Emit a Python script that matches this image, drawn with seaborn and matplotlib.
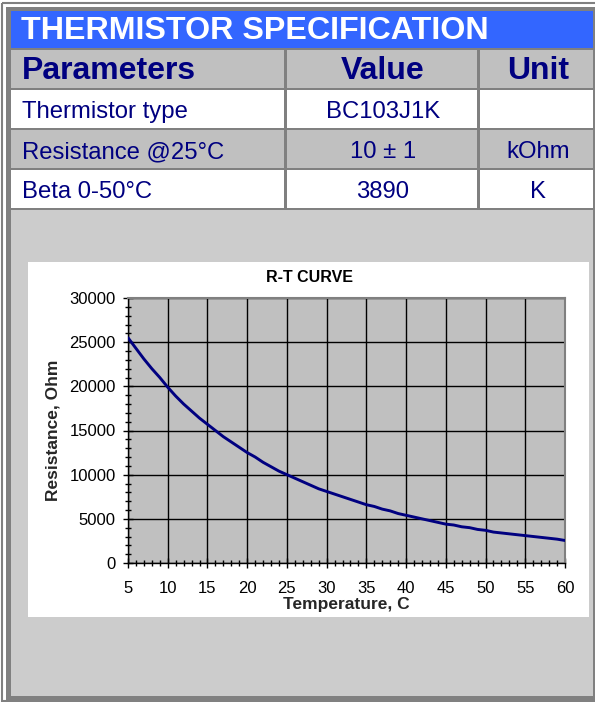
import matplotlib
matplotlib.use("Agg")
import matplotlib.pyplot as plt
from matplotlib.patches import Rectangle
from matplotlib.ticker import MultipleLocator
import seaborn as sns

# ─────────────────────────────────────────────
# DATA
# ─────────────────────────────────────────────
table_title = "THERMISTOR SPECIFICATION"
header = ["Parameters", "Value", "Unit"]
params = ["Thermistor type", "Resistance @25°C", "Beta 0-50°C"]
values = ["BC103J1K", "10 ± 1", "3890"]
units = ["", "kOhm", "K"]

# resistance, one point per degree
temps = list(range(5, 61))
resist = [25500, 24300, 23100, 22000, 21000, 19900, 18900, 18000, 17200, 16400,
          15700, 15000, 14300, 13700, 13100, 12500, 12000, 11400, 10900, 10400,
          10000, 9600, 9200, 8800, 8400, 8100, 7800, 7500, 7200, 6900,
          6600, 6400, 6100, 5900, 5600, 5400, 5200, 5000, 4800, 4600,
          4400, 4300, 4100, 4000, 3800, 3700, 3500, 3400, 3300, 3200,
          3100, 3000, 2900, 2800, 2700, 2550]

chart_title = "R-T CURVE"
xlabel = "Temperature, C"
ylabel = "Resistance, Ohm"

# ─────────────────────────────────────────────
# STYLE
# ─────────────────────────────────────────────
sns.set_style("white")
plt.rcParams["font.family"] = ["Liberation Sans", "DejaVu Sans"]

NAVY = "#000080"
BLUE = "#3366FF"
HDR_GRAY = "#C0C0C0"
PANEL_GRAY = "#CCCCCC"
LINE_GRAY = "#808080"

W, H = 595, 702
fig = plt.figure(figsize=(W / 100, H / 100), dpi=100, facecolor="white")

# page layer in pixel coordinates
bg = fig.add_axes([0, 0, 1, 1], zorder=0)
bg.set_xlim(0, W)
bg.set_ylim(H, 0)
bg.axis("off")


def box(x0, y0, x1, y1, color, **kw):
    bg.add_patch(Rectangle((x0, y0), x1 - x0, y1 - y0, facecolor=color,
                           edgecolor="none", **kw))


# outer frame + gray cell spacing
bg.add_patch(Rectangle((1.5, 2.5), W, H - 4, facecolor="none",
                       edgecolor=LINE_GRAY, lw=1.5))
box(6, 7, W + 5, 700, LINE_GRAY)

# title bar
box(11, 11, 593, 48, BLUE)
bg.text(21, 39.3, table_title, color="white", fontsize=23.2,
        fontweight="bold", va="baseline", ha="left")

# table columns
cols = [(11, 284), (287, 477), (480, 593)]
col_centers = [None, 383, 538]
row_top = [50, 90, 130, 170]
row_fill = [HDR_GRAY, "white", HDR_GRAY, "white"]
rows = [header] + [[p, v, u] for p, v, u in zip(params, values, units)]

for i, (y0, fill, row) in enumerate(zip(row_top, row_fill, rows)):
    y1 = y0 + 38
    base = y0 + (29.3 if i == 0 else 28.3)
    for j, ((x0, x1), txt) in enumerate(zip(cols, row)):
        box(x0, y0, x1, y1, fill)
        if not txt:
            continue
        kw = dict(color=NAVY, va="baseline",
                  fontsize=23 if i == 0 else 17.2,
                  fontweight="bold" if i == 0 else "normal")
        if j == 0:
            bg.text(22, base, txt, ha="left", **kw)
        else:
            bg.text(col_centers[j], base, txt, ha="center", **kw)

# lower panel + white chart area
box(11, 210, 593, 696, PANEL_GRAY)
box(28, 262, 589, 617, "white")
bg.text(310, 277, chart_title, fontsize=11.5, fontweight="bold",
        ha="center", va="center", color="black")

# ─────────────────────────────────────────────
# R-T CURVE
# ─────────────────────────────────────────────
ax_l, ax_r, ax_t, ax_b = 128, 565, 298, 563
ax = fig.add_axes([ax_l / W, (H - ax_b) / H, (ax_r - ax_l) / W, (ax_b - ax_t) / H],
                  zorder=2)
ax.set_facecolor(HDR_GRAY)

sns.lineplot(x=temps, y=resist, ax=ax, color=NAVY, lw=2.1, zorder=3)

ax.set_xlim(5, 60)
ax.set_ylim(0, 30000)
ax.set_xticks(range(5, 61, 5))
ax.set_yticks(range(0, 30001, 5000))
ax.xaxis.set_minor_locator(MultipleLocator(1))
ax.yaxis.set_minor_locator(MultipleLocator(1000))
ax.grid(True, which="major", color="black", lw=1.0)
ax.set_axisbelow(True)

ax.tick_params(which="major", direction="inout", length=6.7, width=1.0,
               color="black", labelsize=12, labelcolor="black")
ax.tick_params(which="minor", direction="inout", length=4.8, width=1.0,
               color="black")
ax.tick_params(axis="x", which="both", bottom=True, pad=9.5)
ax.tick_params(axis="y", which="both", left=True, pad=5.5)

for side in ["left", "bottom"]:
    ax.spines[side].set_color("black")
    ax.spines[side].set_linewidth(1.0)
for side in ["top", "right"]:
    ax.spines[side].set_color(LINE_GRAY)
    ax.spines[side].set_linewidth(1.5)

ax.set_xlabel(xlabel, fontsize=12.5, fontweight="bold", labelpad=0.5)
ax.set_ylabel(ylabel, fontsize=12.5, fontweight="bold", labelpad=6)

fig.savefig("out.png", dpi=100, facecolor="white")
